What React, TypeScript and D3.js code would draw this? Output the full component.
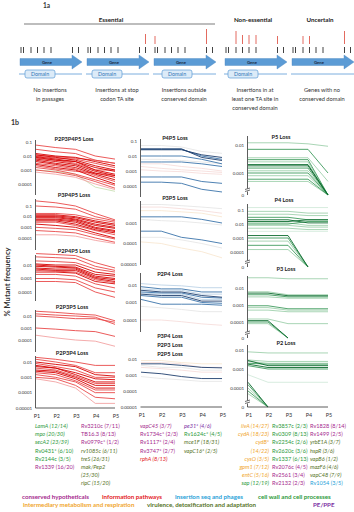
import React from 'react';
import * as d3 from 'd3';

const FONT = 'Lato, "Open Sans", sans-serif';
const passages = ['P1', 'P2', 'P3', 'P4', 'P5'];

// ---------- 1a: TA sites along each gene, insertions (reads) at passages ----------
const taSites = [1, 3.5, 11, 17.5, 24, 31, 52.5, 58.5];
const insertions = [
  [],
  [[7, 10]],
  [[0, 8], [6, 15]],
  [[2, 13], [3, 9], [4, 9], [5, 9], [6, 8]],
  [[2, 8], [3, 8], [6, 13]],
];
const captions = [
  ['No insertions', 'in passages'],
  ['Insertions at stop', 'codon TA site'],
  ['Insertions outside', 'conserved domain'],
  ['Insertions in at', 'least one TA site in', 'conserved domain'],
  ['Genes with no', 'conserved domain'],
];
const groups = ['Essential', 'Non-essential', 'Uncertain'];

// ---------- 1b: % mutant frequency at P1..P5, one row per gene ----------
const lossP2P3P4P5 = [
  [6e-2, 4e-2, 3e-2, 1e-2, 6e-3],
  [3e-2, 2e-2, 1.5e-2, 5e-3, 3e-3],
  [1.5e-2, 1e-2, 8e-3, 4e-3, 2e-3],
  [1.2e-2, 9e-3, 7e-3, 5e-3, 3e-3],
  [1.2e-2, 8e-3, 5e-3, 2e-3, 1e-3],
  [1e-2, 7e-3, 6e-3, 3e-3, 1.5e-3],
  [9e-3, 6e-3, 4e-3, 1.5e-3, 8e-4],
  [8e-3, 5e-3, 4e-3, 1e-3, 5e-4],
  [7e-3, 5e-3, 3e-3, 1e-3, 1e-3],
  [6e-3, 4e-3, 2.5e-3, 8e-4, 4e-4],
  [5e-3, 3e-3, 2e-3, 6e-4, 3e-4],
  [4e-3, 2.5e-3, 1.5e-3, 5e-4, 2e-4],
  [3e-3, 2e-3, 1.2e-3, 4e-4, 1.5e-4],
  [2.5e-3, 1.5e-3, 1e-3, 3e-4, 1e-4],
  [2e-3, 1.2e-3, 8e-4, 6e-4, 4e-4],
  [1.5e-3, 1e-3, 5e-4, 2e-4, 8e-5],
  [1e-3, 7e-4, 4e-4, 1.5e-4, 5e-5],
  [7e-4, 5e-4, 3e-4, 1e-4, 4e-5],
  [1e-3, 8e-4, 5e-4, 6e-5, 3e-5],
];
const lossP3P4P5 = [
  [0.3, 0.2, 0.1, 0.02, 0.005],
  [0.1, 0.08, 0.05, 0.01, 0.004],
  [0.02, 0.02, 0.015, 0.006, 0.003],
  [0.015, 0.015, 0.01, 0.004, 0.002],
  [0.012, 0.012, 0.008, 0.003, 0.0015],
  [0.01, 0.01, 0.006, 0.002, 0.001],
  [0.008, 0.008, 0.005, 0.0015, 0.0008],
  [0.006, 0.006, 0.004, 0.001, 0.0005],
  [0.005, 0.005, 0.003, 0.0008, 0.0004],
  [0.004, 0.004, 0.002, 0.0006, 0.0003],
  [0.003, 0.003, 0.0015, 0.0005, 0.0002],
  [0.002, 0.0015, 0.001, 0.0003, 0.0001],
  [0.001, 0.0008, 0.0006, 0.0002, 0.00008],
  [0.0005, 0.0004, 0.0003, 0.0001, 0.00004],
  [0.0002, 0.0002, 0.00015, 0.00006, 0.00003],
];
const lossP2P4P5 = [
  [0.07, 0.06, 0.05, 0.015, 0.006],
  [0.04, 0.035, 0.03, 0.008, 0.004],
  [0.02, 0.018, 0.015, 0.005, 0.003],
  [0.012, 0.01, 0.01, 0.003, 0.002],
  [0.01, 0.008, 0.007, 0.002, 0.0015],
  [0.008, 0.007, 0.006, 0.0015, 0.001],
  [0.006, 0.005, 0.005, 0.0012, 0.0008],
  [0.005, 0.004, 0.004, 0.001, 0.0006],
  [0.004, 0.0035, 0.003, 0.0008, 0.0005],
  [0.003, 0.003, 0.0025, 0.0006, 0.0004],
  [0.002, 0.002, 0.0015, 0.0004, 0.0002],
  [0.001, 0.001, 0.0008, 0.0002, 0.0001],
  [0.0006, 0.0006, 0.0005, 0.0001, 0.00004],
];
const lossP2P3P5 = [
  [0.025, 0.02, 0.015, 0.012, 0.004],
  [0.015, 0.012, 0.01, 0.008, 0.002],
  [0.01, 0.008, 0.006, 0.006, 0.003],
  [0.001, 0.0008, 0.0006, 0.0005, 0.0002],
  [0.00025, 0.00015, 0.0001, 0.00008, 0.00003],
];
const lossP2P3P4 = [
  [0.02, 0.015, 0.01, 0.006, 0.006],
  [0.015, 0.01, 0.006, 0.002, 0.002],
  [0.01, 0.007, 0.005, 0.0015, 0.0012],
  [0.008, 0.005, 0.003, 0.001, 0.001],
  [0.006, 0.004, 0.002, 0.0008, 0.0007],
  [0.005, 0.004, 0.0015, 0.0005, 0.0005],
  [0.004, 0.003, 0.0012, 0.0004, 0.0004],
  [0.003, 0.0025, 0.001, 0.0003, 0.0003],
  [0.0025, 0.002, 0.0008, 0.0002, 0.0002],
  [0.002, 0.0015, 0.0006, 0.00015, 0.00015],
  [0.0015, 0.001, 0.0005, 0.0001, 0.0001],
  [0.001, 0.0008, 0.0003, 0.00005, 0.00004],
  [0.0008, 0.0005, 0.0002, 0.00002, 0.00002],
];

const lossP4P5 = [
  [0.05, 0.05, 0.04, 0.02, 0.015],
  [0.03, 0.03, 0.03, 0.008, 0.005],
  [0.028, 0.028, 0.028, 0.01, 0.006],
  [0.026, 0.026, 0.026, 0.012, 0.008],
  [0.01, 0.01, 0.01, 0.006, 0.003],
  [0.006, 0.006, 0.005, 0.004, 0.003],
  [0.004, 0.004, 0.004, 0.003, 0.002],
  [0.003, 0.003, 0.002, 0.0015, 0.001],
  [0.002, 0.0015, 0.0012, 0.001, 0.0008],
  [0.0012, 0.001, 0.0009, 0.0007, 0.0006],
  [0.0004, 0.0004, 0.0004, 0.0002, 0.00015],
  [0.00018, 0.00018, 0.00015, 0.00006, 0.00004],
];
const lossP3P5 = [
  [0.008, 0.008, 0.007, 0.006, 0.005],
  [0.006, 0.006, 0.005, 0.004, 0.003],
  [0.004, 0.004, 0.0035, 0.003, 0.002],
  [0.002, 0.002, 0.002, 0.0015, 0.001],
  [0.0015, 0.0013, 0.0012, 0.001, 0.0008],
  [0.0004, 0.0004, 0.0002, 0.00015, 0.0001],
  [0.0002, 0.0002, 0.00015, 0.0001, 0.00006],
  [0.00012, 0.0001, 0.00006, 0.00004, 0.00002],
];
const lossP2P4 = [
  [0.012, 0.01, 0.009, 0.007, 0.007],
  [0.008, 0.006, 0.006, 0.004, 0.004],
  [0.006, 0.005, 0.005, 0.003, 0.003],
  [0.005, 0.004, 0.004, 0.0025, 0.002],
  [0.004, 0.0035, 0.0035, 0.002, 0.0018],
  [0.0035, 0.003, 0.003, 0.0015, 0.0015],
  [0.003, 0.0025, 0.0025, 0.0012, 0.0012],
  [0.0025, 0.002, 0.002, 0.001, 0.0009],
  [0.0015, 0.0008, 0.0008, 0.0008, 0.0007],
  [0.0006, 0.0005, 0.0004, 0.0003, 0.0003],
  [0.0001, 0.0001, 0.00008, 0.00006, 0.00005],
];
const lossPairs = [
  [0.008, 0.008, 0.006, 0.005, 0.005],
  [0.006, 0.006, 0.005, 0.003, 0.003],
  [0.005, 0.005, 0.004, 0.003, 0.0028],
  [0.004, 0.003, 0.003, 0.002, 0.002],
  [0.003, 0.0025, 0.002, 0.0015, 0.0015],
  [0.0015, 0.0012, 0.0008, 0.0006, 0.0006],
  [0.0008, 0.0006, 0.0005, 0.0004, 0.0004],
];

const lossP5 = [
  [0.012, 0.012, 0.012, 0.011, 0.009],
  [0.007, 0.007, 0.007, 0.007, 0.001],
  [0.0035, 0.0035, 0.0035, 0.0035, 0.0005],
  [0.003, 0.003, 0.003, 0.003, 0],
  [0.0025, 0.0025, 0.0025, 0.0025, 0],
  [0.002, 0.002, 0.002, 0.002, 0],
  [0.0018, 0.0018, 0.0018, 0.0018, 0],
  [0.0015, 0.0015, 0.0015, 0.0015, 0],
  [0.0012, 0.0012, 0.0012, 0.0012, 0],
  [0.001, 0.001, 0.001, 0.001, 0],
  [0.0008, 0.0008, 0.0008, 0.0008, 0],
  [0.0006, 0.0006, 0.0006, 0.0006, 0],
  [0.0005, 0.0005, 0.0005, 0.0005, 0],
];
const lossP4 = [
  [0.15, 0.15, 0.15, 0.15, 0.15],
  [0.08, 0.08, 0.08, 0.06, 0.06],
  [0.05, 0.05, 0.05, 0.04, 0.04],
  [0.03, 0.03, 0.03, 0.02, 0.02],
  [0.02, 0.02, 0.02, 0.012, 0.012],
  [0.015, 0.015, 0.015, 0.02, 0.02],
  [0.012, 0.012, 0.012, 0.008, 0.008],
  [0.01, 0.01, 0.01, 0.015, 0.015],
  [0.008, 0.008, 0.008, 0.006, 0.006],
  [0.005, 0.005, 0.005, 0.004, 0.004],
  [0.003, 0.003, 0.003, 0.003, 0.003],
  [0.0015, 0.0015, 0.0015, 0, null],
  [0.001, 0.001, 0.001, 0, null],
  [0.0006, 0.0006, 0.0006, 0, null],
  [0.0003, 0.0003, 0.0003, 0, null],
  [0.00015, 0.00015, 0.00015, 0, null],
];
const lossP3 = [
  [0.04, 0.04, 0.035, 0.035, 0.035],
  [0.006, 0.006, 0.004, 0.004, 0.004],
  [0.005, 0.005, 0.0035, 0.0035, 0.0035],
  [0.004, 0.004, 0.003, 0.003, 0.003],
  [0.003, 0.003, 0.0025, 0.0025, 0.0025],
  [0.0009, 0.0009, 0.0006, 0.0006, 0.0006],
  [0.0007, 0.0007, 0.0005, 0.0005, 0.0005],
  [0.0005, 0.0005, 0.0004, 0.0004, 0.0004],
  [0.00015, 0.00015, 0.00008, 0.00008, 0.00008],
  [0.00012, 0.00012, 0, null, null],
  [0.0001, 0.0001, 0, null, null],
  [0.00008, 0.00008, 0, null, null],
];
const lossP2 = [
  [0.008, 0.007, 0.007, 0.007, 0.007],
  [0.003, 0.0025, 0.0025, 0.0025, 0.0025],
  [0.0028, 0.0015, 0.0015, 0.0015, 0.0015],
  [0.0025, 0.002, 0.002, 0.002, 0.002],
  [0.002, 0.0018, 0.0018, 0.0018, 0.0018],
  [0.0018, 0.0012, 0.0012, 0.0012, 0.0012],
  [0.0015, 0.001, 0.001, 0.001, 0.001],
  [0.0005, 0.0002, 0.0002, 0.0002, 0.0002],
  [0.0002, 0, null, null, null],
  [0.00015, 0, null, null, null],
  [0.0001, 0, null, null, null],
  [0.00007, 0, null, null, null],
  [0.00005, 0, null, null, null],
];

// ---------- gene lists: [label, category, italic] ----------
const listA1 = [['LamA (12/14)', 'cell', 1], ['mpo (20/30)', 'cell', 1], ['secA2 (23/39)', 'cell', 1], ['Rv0431* (6/10)', 'cell', 0], ['Rv2144c (3/5)', 'cell', 0], ['Rv1339 (16/20)', 'hyp', 0]];
const listA2 = [['Rv3210c (7/11)', 'hyp', 0], ['TB16.3 (8/13)', 'hyp', 0], ['Rv0979c* (1/2)', 'hyp', 0], ['rv1085c (6/11)', 'vir', 1], ['treS (26/31)', 'vir', 1], ['mak/Pep2', 'vir', 1], ['(25/30)', 'vir', 1], ['ripC (15/20)', 'vir', 1]];
const listB1 = [['vapC45 (3/7)', 'hyp', 1], ['Rv1734c* (2/3)', 'hyp', 0], ['Rv1117* (2/4)', 'hyp', 0], ['Rv3747* (2/7)', 'hyp', 0], ['rphA (8/13)', 'info', 1]];
const listB2 = [['pe31* (4/6)', 'pe', 1], ['Rv1624c* (4/5)', 'cell', 0], ['mce1F (18/31)', 'vir', 1], ['vapC16* (2/5)', 'vir', 1]];
const listC1 = [['ilvA (14/27)', 'meta', 1], ['cydA (18/23)', 'meta', 1], ['cydB*', 'meta', 1], ['(14/22)', 'meta', 1], ['cysO (3/5)', 'meta', 1], ['gpm1 (7/12)', 'meta', 1], ['entC (5/16)', 'meta', 1], ['sap (12/19)', 'cell', 1]];
const listC2 = [['Rv3857c (2/3)', 'cell', 0], ['Rv0309 (8/13)', 'cell', 0], ['Rv2254c (2/6)', 'cell', 0], ['Rv2620c (3/6)', 'cell', 0], ['Rv1337 (6/13)', 'cell', 0], ['Rv2076c (4/5)', 'hyp', 0], ['Rv2561 (3/4)', 'hyp', 0], ['Rv2132 (2/3)', 'hyp', 0]];
const listC3 = [['Rv1828 (8/14)', 'hyp', 0], ['Rv1499 (2/5)', 'hyp', 0], ['yrbE1A (3/7)', 'vir', 1], ['hspR (3/6)', 'vir', 1], ['vapB6 (1/2)', 'vir', 1], ['mazF6 (4/6)', 'vir', 1], ['vapC48 (7/9)', 'vir', 1], ['Rv1054 (3/5)', 'phage', 0]];

const legendRow1 = [['conserved hypotheticals', 'hyp'], ['information pathways', 'info'], ['insertion seq and phages', 'phage'], ['cell wall and cell processes', 'cell']];
const legendRow2 = [['intermediary metabolism and respiration', 'meta'], ['virulence, detoxification and adaptation', 'vir'], ['PE/PPE', 'pe']];

// ---------- styles ----------
const catColor = { hyp: '#a52a8e', info: '#e3211c', phage: '#26a1d8', cell: '#2d9a3c', meta: '#f0a52c', vir: '#56731f', pe: '#7b2fa3' };
const reds = ['#d60000', '#e94848', '#f3a3a3', '#c9e0b4'];
const blues = ['#1f3e6d', '#3b74aa', '#bcd2e6', '#f6dedb', '#e6e6e6', '#f8e8d2'];
const greens = ['#0a6a2d', '#3f9b5e', '#9fd0ad', '#d2eadb'];

const leftX = [36, 115];
const midX = [141, 222];
const rightX = [248, 328];

const leftPanels = [
  { titles: ['P2P3P4P5 Loss'], tx: 74, ty: 141, data: lossP2P3P4P5, shade: [1, 1, 0, 1, 0, 1, 0, 0, 1, 0, 0, 0, 1, 0, 1, 1, 1, 2, 3], anchor: [0.1, 0.0001], anchorY: [142, 184], top: 140, bottom: 195, ticks: [0.1, 0.01, 0.001, 0.0001] },
  { titles: ['P3P4P5 Loss'], tx: 74, ty: 197, data: lossP3P4P5, shade: [1, 1, 1, 0, 0, 0, 0, 0, 0, 0, 1, 0, 1, 1, 2], anchor: [0.1, 0.0001], anchorY: [206, 238], top: 199, bottom: 250, ticks: [0.1, 0.01, 0.001, 0.0001] },
  { titles: ['P2P4P5 Loss'], tx: 74, ty: 253, data: lossP2P4P5, shade: [1, 1, 1, 0, 0, 0, 0, 0, 1, 0, 1, 1, 1], anchor: [0.01, 0.0001], anchorY: [265, 292], top: 255, bottom: 301, ticks: [0.01, 0.001, 0.0001] },
  { titles: ['P2P3P5 Loss'], tx: 72, ty: 309, data: lossP2P3P5, shade: [1, 1, 1, 1, 2], anchor: [0.01, 0.0001], anchorY: [316, 340], top: 310, bottom: 352, ticks: [0.01, 0.001, 0.0001] },
  { titles: ['P2P3P4 Loss'], tx: 72, ty: 355, data: lossP2P3P4, shade: [1, 1, 0, 1, 0, 0, 1, 0, 0, 1, 1, 1, 2], anchor: [0.01, 0.00001], anchorY: [362, 408], top: 356, bottom: 408, ticks: [0.01, 0.001, 0.0001, 0.00001] },
];
const midPanels = [
  { titles: ['P4P5 Loss'], tx: 175, ty: 140, data: lossP4P5, shade: [4, 0, 1, 0, 1, 4, 1, 3, 3, 3, 1, 1], anchor: [0.1, 0.0001], anchorY: [141, 186], top: 139, bottom: 197, ticks: [0.1, 0.01, 0.001, 0.0001] },
  { titles: ['P3P5 Loss'], tx: 175, ty: 200, data: lossP3P5, shade: [4, 3, 5, 1, 4, 1, 4, 5], anchor: [0.001, 0.00001], anchorY: [223, 264], top: 201, bottom: 265, ticks: [0.001, 0.0001, 0.00001] },
  { titles: ['P2P4 Loss'], tx: 170, ty: 276, data: lossP2P4, shade: [2, 1, 2, 0, 1, 2, 0, 1, 1, 4, 3], anchor: [0.01, 0.0001], anchorY: [285, 320], top: 273, bottom: 332, ticks: [0.01, 0.001, 0.0001] },
  { titles: ['P3P4 Loss', 'P2P3 Loss', 'P2P5 Loss'], tx: 170, ty: 338, data: lossPairs, shade: [5, 3, 0, 4, 3, 0, 4], anchor: [0.01, 0.00001], anchorY: [359, 407], top: 407, bottom: 407, ticks: [0.01, 0.001, 0.0001, 0.00001] },
];
const rightPanels = [
  { titles: ['P5 Loss'], tx: 281, ty: 139, data: lossP5, shade: [2, 1, 2, 1, 2, 0, 0, 1, 2, 1, 2, 1, 2], anchor: [0.01, 0.001], anchorY: [145, 173], zeroY: 195, top: 136, bottom: 195, ticks: [0.01, 0.001, 0] },
  { titles: ['P4 Loss'], tx: 284, ty: 202, data: lossP4, shade: [3, 2, 2, 1, 0, 0, 2, 1, 2, 2, 3, 0, 1, 2, 1, 2], anchor: [0.1, 0.0001], anchorY: [210, 252], zeroY: 267, top: 204, bottom: 267, ticks: [0.1, 0.01, 0.001, 0.0001, 0] },
  { titles: ['P3 Loss'], tx: 286, ty: 271, data: lossP3, shade: [2, 2, 0, 1, 2, 1, 2, 2, 2, 0, 1, 2], anchor: [0.01, 0.0001], anchorY: [288, 322], zeroY: 338, top: 276, bottom: 338, ticks: [0.01, 0.001, 0.0001, 0] },
  { titles: ['P2 Loss'], tx: 286, ty: 345, data: lossP2, shade: [2, 2, 0, 2, 1, 0, 1, 3, 0, 1, 2, 1, 2], anchor: [0.01, 0.0001], anchorY: [350, 388], zeroY: 407, top: 345, bottom: 407, ticks: [0.01, 0.001, 0.0001, 0] },
];

function LinePanel({ p, xr, palette }) {
  const x = d3.scalePoint().domain(passages).range(xr);
  const y = d3.scaleLog().domain(p.anchor).range(p.anchorY);
  const yv = (v) => (v === 0 ? p.zeroY : y(v));
  const line = d3.line()
    .defined((v) => v != null)
    .x((_, i) => x(passages[i]))
    .y((v) => yv(v));
  const order = p.data.map((_, i) => i).sort((a, b) => p.shade[b] - p.shade[a]);
  const ax = xr[0] - 0.5;
  return (
    <g>
      {order.map((i) => (
        <path key={i} d={line(p.data[i])} fill="none" stroke={palette[p.shade[i]]} strokeWidth={0.9} />
      ))}
      {p.titles.map((t, i) => (
        <text key={t} x={p.tx} y={p.ty + i * 9} textAnchor="middle" fontSize={5.6} fontWeight="bold" fill="#222">{t}</text>
      ))}
      {p.bottom > p.top && <line x1={ax} x2={ax} y1={p.top} y2={p.bottom} stroke="#333" strokeWidth={0.8} />}
      {p.ticks.map((t) => (
        <text key={t} x={ax - 3.5} y={yv(t) + 1.5} textAnchor="end" fontSize={4.4} fill="#333">{t === 0 ? '0' : String(t)}</text>
      ))}
      {p.zeroY && (
        <g>
          <rect x={ax - 2.5} y={p.zeroY - 6.5} width={5} height={3} fill="#fff" />
          <line x1={ax - 2.5} x2={ax + 2.5} y1={p.zeroY - 5.5} y2={p.zeroY - 7} stroke="#333" strokeWidth={0.7} />
          <line x1={ax - 2.5} x2={ax + 2.5} y1={p.zeroY - 3.5} y2={p.zeroY - 5} stroke="#333" strokeWidth={0.7} />
        </g>
      )}
    </g>
  );
}

function XAxis({ xr, y }) {
  const x = d3.scalePoint().domain(passages).range(xr);
  return (
    <g>
      <line x1={xr[0] - 0.5} x2={xr[1]} y1={y} y2={y} stroke="#333" strokeWidth={0.8} />
      {passages.map((p) => (
        <text key={p} x={x(p) + 1} y={y + 10} textAnchor="middle" fontSize={5.4} fill="#333">{p}</text>
      ))}
    </g>
  );
}

function GeneList({ items, x, anchor = 'start' }) {
  return (
    <g>
      {items.map(([label, cat, it], i) => (
        <text key={label + i} x={x} y={428 + i * 8.2} textAnchor={anchor} fontSize={5.6}
          fontStyle={it ? 'italic' : 'normal'} fill={catColor[cat]}>{label}</text>
      ))}
    </g>
  );
}

function GenePanel({ idx, x0 }) {
  const gx = d3.scaleLinear().domain([0, 62]).range([x0, x0 + 62]);
  const h = d3.scaleLinear().domain([0, 15]).range([0, 15]);
  const domStart = [5, 5, 8, 3][idx];
  const arrow = `M${x0},58.5 L${x0 + 52},58.5 L${x0 + 52},55 L${x0 + 62},62 L${x0 + 52},69 L${x0 + 52},65.5 L${x0},65.5 Z`;
  return (
    <g>
      {taSites.map((s, i) => (
        <line key={i} x1={gx(s)} x2={gx(s)} y1={47} y2={53} stroke="#111" strokeWidth={0.8} />
      ))}
      {insertions[idx].map(([site, reads], i) => (
        <line key={'r' + i} x1={gx(taSites[site])} x2={gx(taSites[site])} y1={44} y2={44 - h(reads)} stroke="#e05a4e" strokeWidth={0.9} />
      ))}
      <path d={arrow} fill="#5b9bd5" stroke="#4a86c0" strokeWidth={0.4} />
      <text x={x0 + 27} y={63.6} textAnchor="middle" fontSize={4.3} fontWeight="bold" fill="#1d2f45">Gene</text>
      <line x1={x0 - 1} x2={x0 + 62} y1={74} y2={74} stroke="#5b9bd5" strokeWidth={0.8} />
      {domStart !== undefined && (
        <g>
          <rect x={x0 + domStart} y={70} width={30} height={8} rx={2} fill="#dcebf8" stroke="#5b9bd5" strokeWidth={0.7} />
          <text x={x0 + domStart + 15} y={76.2} textAnchor="middle" fontSize={5.3} fill="#2e75b6">Domain</text>
        </g>
      )}
      {captions[idx].map((c, i) => (
        <text key={c} x={x0 + 30} y={92 + i * 9} textAnchor="middle" fontSize={5.7} fill="#333">{c}</text>
      ))}
    </g>
  );
}

export default function App() {
  const panelX = [20, 87, 154, 225, 292];
  const groupX = [111, 253, 320];
  const legend1X = [22, 102, 175, 258];
  const legend2X = [23, 147, 313];
  return (
    <svg width={354} height={512} style={{ position: 'absolute', left: 0, top: 0, background: '#fff' }} fontFamily={FONT}>
      <rect width={354} height={512} fill="#fff" />
      <text x={43} y={8} fontSize={6.5} fontWeight="bold" fill="#333">1a</text>
      {groups.map((g, i) => (
        <text key={g} x={groupX[i]} y={21.5} textAnchor="middle" fontSize={6.2} fontWeight="bold" fill="#222">{g}</text>
      ))}
      <line x1={24} x2={215} y1={24} y2={24} stroke="#444" strokeWidth={0.7} />
      {panelX.map((x0, i) => <GenePanel key={i} idx={i} x0={x0} />)}

      <text x={11} y={125} fontSize={7} fontWeight="bold" fill="#333">1b</text>
      <text transform="translate(9.5,282) rotate(-90)" textAnchor="middle" fontSize={7.6} fontWeight="bold" fill="#333">% Mutant frequency</text>

      {leftPanels.map((p, i) => <LinePanel key={'l' + i} p={p} xr={leftX} palette={reds} />)}
      {midPanels.map((p, i) => <LinePanel key={'m' + i} p={p} xr={midX} palette={blues} />)}
      {rightPanels.map((p, i) => <LinePanel key={'r' + i} p={p} xr={rightX} palette={greens} />)}
      <XAxis xr={leftX} y={408} />
      <XAxis xr={midX} y={407} />
      <XAxis xr={rightX} y={407} />

      <GeneList items={listA1} x={35} />
      <GeneList items={listA2} x={81} />
      <GeneList items={listB1} x={140} />
      <GeneList items={listB2} x={184} />
      <GeneList items={listC1} x={269} anchor="end" />
      <GeneList items={listC2} x={272} />
      <GeneList items={listC3} x={310} />

      {legendRow1.map(([t, c], i) => (
        <text key={t} x={legend1X[i]} y={499} fontSize={6.2} fontWeight="bold" fill={catColor[c]}>{t}</text>
      ))}
      {legendRow2.map(([t, c], i) => (
        <text key={t} x={legend2X[i]} y={507} fontSize={6.2} fontWeight="bold" fill={catColor[c]}>{t}</text>
      ))}
    </svg>
  );
}
